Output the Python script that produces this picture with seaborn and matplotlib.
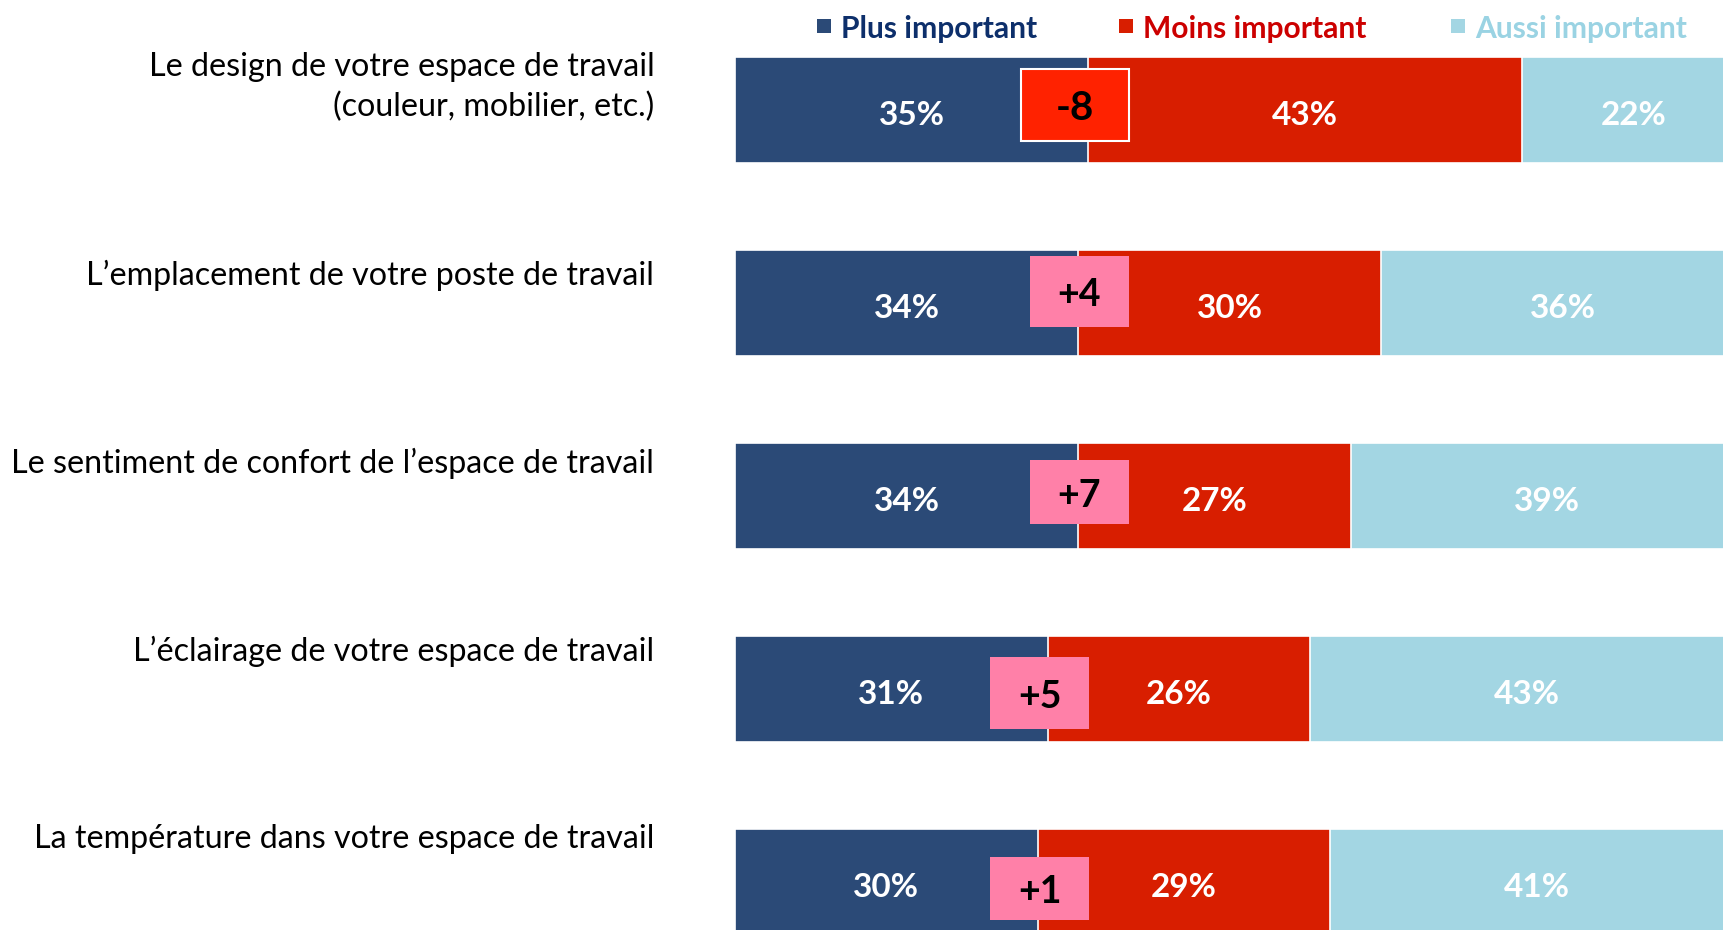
import matplotlib
matplotlib.use("Agg")
import matplotlib.pyplot as plt
import seaborn as sns
import pandas as pd
import numpy as np
from matplotlib.patches import Rectangle

# data
categories = [
    "Le design de votre espace de travail\n(couleur, mobilier, etc.)",
    "L\u2019emplacement de votre poste de travail",
    "Le sentiment de confort de l\u2019espace de travail",
    "L\u2019\u00e9clairage de votre espace de travail",
    "La temp\u00e9rature dans votre espace de travail",
]
plus = [35, 34, 34, 31, 30]
moins = [43, 30, 27, 26, 29]
aussi = [22, 36, 39, 43, 41]
ecart = ["-8", "+4", "+7", "+5", "+1"]
series = ["Plus important", "Moins important", "Aussi important"]

c_plus = "#2B4A77"
c_moins = "#D81E00"
c_aussi = "#A3D6E3"
txt_colors = ["#0D2F6B", "#CC0000", "#9AD3E3"]

df = pd.DataFrame({"cat": categories, "plus": plus, "moins": moins, "aussi": aussi})
df["c2"] = df["plus"] + df["moins"]
df["c3"] = df["c2"] + df["aussi"]

sns.set_theme(style="white")
plt.rcParams["font.family"] = ["Lato", "DejaVu Sans"]

fig = plt.figure(figsize=(17.24, 9.30), dpi=100)
ax = fig.add_axes([735 / 1724, 0, 1 - 735 / 1724, 1])

# stacked bars drawn as overlapping cumulative totals
bw = 0.545
sns.barplot(data=df, y="cat", x="c3", color=c_aussi, orient="h", width=bw,
            saturation=1, ax=ax, edgecolor="white", linewidth=1.2)
sns.barplot(data=df, y="cat", x="c2", color=c_moins, orient="h", width=bw,
            saturation=1, ax=ax, edgecolor="white", linewidth=1.2)
sns.barplot(data=df, y="cat", x="plus", color=c_plus, orient="h", width=bw,
            saturation=1, ax=ax, edgecolor="white", linewidth=1.2)

# the right end of the bars runs past the picture edge
ax.set_xlim(0, 98)
ax.set_ylim(4.249, -0.57)
ax.axis("off")

# value labels
for i in range(len(categories)):
    starts = [0, plus[i], plus[i] + moins[i]]
    vals = [plus[i], moins[i], aussi[i]]
    for s, v in zip(starts, vals):
        ax.text(s + v / 2, i + 0.03, f"{v}%", ha="center", va="center",
                color="white", fontsize=24, fontweight="bold")

# difference badges
badge_x = [33.7, 34.1, 34.1, 30.2, 30.2]
badge_dy = [-0.026, -0.06, -0.02, 0.02, 0.034]
badge_h = [0.37, 0.37, 0.335, 0.37, 0.33]
for i, e in enumerate(ecart):
    neg = e.startswith("-")
    cx = badge_x[i]
    w = 10.7 if neg else 9.8
    h = badge_h[i]
    cy = i + badge_dy[i]
    ax.add_patch(Rectangle((cx - w / 2, cy - h / 2), w, h,
                           facecolor="#FF2200" if neg else "#FF80A8",
                           edgecolor="white" if neg else "none",
                           linewidth=1.5 if neg else 0, zorder=5))
    ax.text(cx, cy + 0.02, e, ha="center", va="center",
            fontsize=29 if neg else 27,
            fontweight="bold", color="black", zorder=6)

# category labels on the left
for i, c in enumerate(categories):
    ax.text(-8.0, i * 0.974 - 0.118, c, ha="right", va="center",
            fontsize=23.2, color="black", linespacing=1.42)

# legend drawn at the top
leg_sq_x = [824, 1126, 1458]
for lab, col, tcol, sx in zip(series, [c_plus, c_moins, c_aussi], txt_colors, leg_sq_x):
    fig.patches.append(Rectangle(((sx - 7) / 1724, 1 - 33 / 930), 14 / 1724, 14 / 930,
                                 transform=fig.transFigure, facecolor=col,
                                 edgecolor="none"))
    fig.text((sx + 17) / 1724, 1 - 29 / 930, lab, ha="left", va="center",
             fontsize=21.6, fontweight="bold", color=tcol)

fig.savefig("out.png", dpi=100)
